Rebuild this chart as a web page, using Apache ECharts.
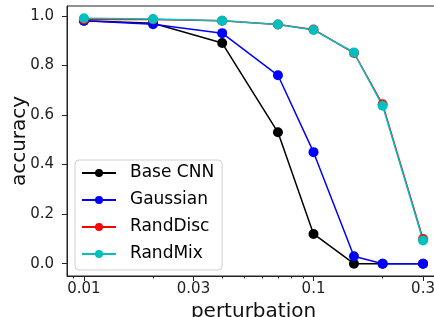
<!DOCTYPE html>
<html style="height: 100%">
<head>
    <meta charset="utf-8">
</head>
<body style="height: 100%; margin: 0; background: #fff">
    <div id="container" style="width: 434px; height: 317px"></div>
    <script type="text/javascript" src="https://cdn.jsdelivr.net/npm/echarts@6/dist/echarts.min.js"></script>
    <script type="text/javascript">
        // perturbation levels (x, log scale) and accuracies
        var perturbation = [0.01, 0.02, 0.04, 0.07, 0.1, 0.15, 0.2, 0.3];
        var baseCnn  = [0.98, 0.97, 0.89, 0.53, 0.12, 0.00, 0.00, 0.00];
        var gaussian = [0.98, 0.966, 0.93, 0.76, 0.45, 0.03, 0.00, 0.00];
        var randDisc = [0.985, 0.985, 0.98, 0.965, 0.945, 0.85, 0.643, 0.10];
        var randMix  = [0.99, 0.987, 0.98, 0.965, 0.943, 0.852, 0.637, 0.094];

        var xTicks = [0.01, 0.03, 0.1, 0.3];
        var xMinorTicks = [0.009, 0.02, 0.04, 0.05, 0.06, 0.07, 0.08, 0.09, 0.2];
        var yTicks = [0, 0.2, 0.4, 0.6, 0.8, 1.0];

        var font = 'DejaVu Sans';
        var lg = function (v) { return Math.log10(v); };
        // matplotlib-like 5% margins, in log space for x
        var xPad = 0.05 * (lg(0.3) - lg(0.01));
        var xMin = lg(0.01) - xPad, xMax = lg(0.3) + xPad;

        function pairs(ys) {
            return perturbation.map(function (x, i) { return [lg(x), ys[i]]; });
        }
        function mk(name, color, ys) {
            return {
                name: name, type: 'line', data: pairs(ys),
                symbol: 'circle', symbolSize: 10,
                itemStyle: { color: color },
                lineStyle: { color: color, width: 1.5 },
                emphasis: { disabled: true }
            };
        }

        var myChart = echarts.init(document.getElementById('container'));
        var option = {
            animation: false,
            backgroundColor: '#fff',
            textStyle: { fontFamily: font },
            grid: {
                left: 67, right: -6, top: 6, bottom: 41,
                containLabel: false, outerBoundsMode: 'none',
                show: true, borderColor: '#222', borderWidth: 1
            },
            legend: {
                orient: 'vertical', left: 75, top: 160,
                itemWidth: 34, itemHeight: 10, itemGap: 7,
                padding: [3, 8, 6, 6],
                borderColor: '#d0d0d0', borderWidth: 1, borderRadius: 4,
                backgroundColor: 'rgba(255,255,255,0.8)',
                textStyle: { fontSize: 17, color: '#000', fontFamily: font, lineHeight: 20, padding: [0, 0, 0, 9] },
                data: ['Base CNN', 'Gaussian', 'RandDisc', 'RandMix']
            },
            xAxis: [{
                type: 'value', min: xMin, max: xMax,
                name: 'perturbation', nameLocation: 'middle', nameGap: 23,
                nameTextStyle: { fontSize: 20, color: '#111', fontFamily: font },
                axisLine: { onZero: false, lineStyle: { color: '#222' } },
                axisTick: { show: true, length: 5, customValues: xTicks.map(lg), lineStyle: { color: '#222' } },
                axisLabel: {
                    customValues: xTicks.map(lg), margin: 6, fontSize: 15, color: '#222',
                    formatter: function (v) { return String(+Math.pow(10, v).toPrecision(2)); }
                },
                splitLine: { show: false }
            }, {
                type: 'value', min: xMin, max: xMax, position: 'bottom',
                axisLine: { show: false, onZero: false },
                axisTick: { show: true, length: 2.5, customValues: xMinorTicks.map(lg), lineStyle: { color: '#222' } },
                axisLabel: { show: false },
                splitLine: { show: false }
            }],
            yAxis: {
                type: 'value', min: -0.0495, max: 1.0395,
                name: 'accuracy', nameLocation: 'middle', nameGap: 37, nameMoveOverlap: false,
                nameTextStyle: { fontSize: 20, color: '#111', fontFamily: font },
                axisLine: { show: true, onZero: false, lineStyle: { color: '#222' } },
                axisTick: { show: true, length: 5, customValues: yTicks, lineStyle: { color: '#222' } },
                axisLabel: {
                    customValues: yTicks, margin: 13, fontSize: 15, color: '#222',
                    formatter: function (v) { return v.toFixed(1); }
                },
                splitLine: { show: false }
            },
            series: [
                mk('Base CNN', '#000000', baseCnn),
                mk('Gaussian', '#0000ff', gaussian),
                mk('RandDisc', '#ff0000', randDisc),
                mk('RandMix', '#00bfbf', randMix)
            ]
        };
        myChart.setOption(option);
    </script>
</body>
</html>
